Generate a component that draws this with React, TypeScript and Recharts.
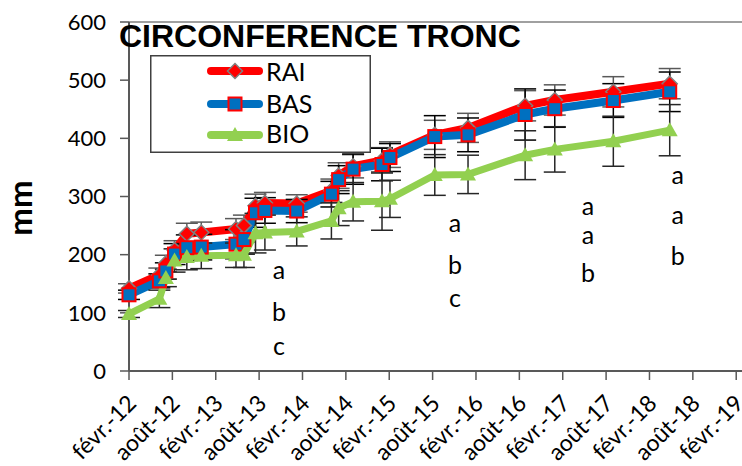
import React from 'react';
import {
  LineChart,
  Line,
  XAxis,
  YAxis,
  ErrorBar,
  ReferenceLine,
  ReferenceDot,
  Legend,
} from 'recharts';

// measurement dates, in months since févr.-12
const months = [0, 4.2, 5.1, 6.3, 8, 10, 14.8, 15.9, 17.5, 18.8, 23.2, 28, 29, 31, 35, 36.1, 42.3, 46.9, 54.8, 58.9, 67, 74.8];

const rai = [142, 165, 185, 208, 236, 238, 244, 250, 284, 289, 288, 310, 336, 352, 362, 372, 406, 418, 456, 466, 480, 494];
const bas = [131, 155, 172, 201, 212, 213, 218, 226, 272, 276, 275, 304, 329, 347, 355, 367, 403, 406, 441, 451, 465, 480];
const bio = [98, 124, 160, 190, 196, 198, 199, 200, 237, 238, 240, 258, 280, 291, 292, 296, 337, 338, 371, 381, 395, 414];

const raiErr = [8, 12, 14, 16, 18, 18, 18, 18, 20, 18, 15, 20, 22, 20, 22, 22, 25, 25, 26, 26, 26, 26];
const basErr = [8, 12, 14, 18, 22, 22, 25, 25, 25, 22, 20, 22, 24, 26, 28, 24, 36, 29, 44, 32, 29, 34];
const bioErr = [6, 15, 15, 20, 22, 22, 21, 22, 34, 30, 25, 31, 30, 33, 50, 32, 35, 33, 42, 39, 43, 44];

const tickMonths = [0, 6, 12, 18, 24, 30, 36, 42, 48, 54, 60, 66, 72, 78, 84];
const tickLabels = [
  'févr.-12', 'août-12', 'févr.-13', 'août-13', 'févr.-14', 'août-14', 'févr.-15', 'août-15',
  'févr.-16', 'août-16', 'févr.-17', 'août-17', 'févr.-18', 'août-18', 'févr.-19',
];
const yTicks = [0, 100, 200, 300, 400, 500, 600];

// significance letters
const letterMonths = [20.75, 20.75, 20.75, 45.1, 45.1, 45.1, 63.5, 63.5, 63.5, 75.9, 75.9, 75.9];
const letterValues = [173, 101, 42, 254, 182, 125, 283, 233, 169, 336, 268, 197];
const letterTexts = ['a', 'b', 'c', 'a', 'b', 'c', 'a', 'a', 'b', 'a', 'a', 'b'];

const RED = '#FF0000';
const BLUE = '#0070C0';
const GREEN = '#92D050';
const FONT = 'Lato, "Open Sans", sans-serif';

const data = months.map((m, i) => ({
  m,
  rai: rai[i],
  raiErr: raiErr[i],
  bas: bas[i],
  basErr: basErr[i],
  bio: bio[i],
  bioErr: bioErr[i],
}));

function diamondShape(cx: number, cy: number, key: string) {
  const s = 7.5;
  return (
    <path
      key={key}
      d={`M${cx},${cy - s}L${cx + s},${cy}L${cx},${cy + s}L${cx - s},${cy}Z`}
      fill={RED}
      stroke="#808080"
      strokeWidth={1.5}
    />
  );
}

function squareShape(cx: number, cy: number, key: string) {
  const s = 6.5;
  return (
    <rect key={key} x={cx - s} y={cy - s} width={s * 2} height={s * 2} fill={BLUE} stroke={RED} strokeWidth={2} />
  );
}

function triangleShape(cx: number, cy: number, key: string) {
  return (
    <path key={key} d={`M${cx},${cy - 8}L${cx + 8},${cy + 6}L${cx - 8},${cy + 6}Z`} fill={GREEN} />
  );
}

const RaiDot = (p: any) => (p.cx == null ? null : diamondShape(p.cx, p.cy, `rai-${p.index}`));
const BasDot = (p: any) => (p.cx == null ? null : squareShape(p.cx, p.cy, `bas-${p.index}`));
const BioDot = (p: any) => (p.cx == null ? null : triangleShape(p.cx, p.cy, `bio-${p.index}`));

function XTick({ x, y, payload }: any) {
  const label = tickLabels[tickMonths.indexOf(payload.value)];
  const px = x + 3;
  const py = y + 17;
  return (
    <text
      transform={`translate(${px},${py}) rotate(-45)`}
      textAnchor="end"
      dy="0.35em"
      fontSize={23}
      fontFamily={FONT}
      fill="#000"
    >
      {label}
    </text>
  );
}

function LegendBox() {
  const rows = [
    { name: 'RAI', color: RED, shape: diamondShape },
    { name: 'BAS', color: BLUE, shape: squareShape },
    { name: 'BIO', color: GREEN, shape: triangleShape },
  ];
  const lineY = [16, 49, 80];
  const textY = [26, 58, 88];
  return (
    <svg width={221} height={98} style={{ display: 'block' }}>
      <rect x={0.75} y={0.75} width={219.5} height={96.5} fill="#fff" stroke="#404040" strokeWidth={1.5} />
      {rows.map((r, i) => (
        <g key={r.name}>
          <line x1={61} x2={109} y1={lineY[i]} y2={lineY[i]} stroke={r.color} strokeWidth={8} strokeLinecap="round" />
          {r.shape(85, lineY[i], `lg-${i}`)}
          <text x={116} y={textY[i]} fontSize={25} fontFamily={FONT} fill="#000">
            {r.name}
          </text>
        </g>
      ))}
    </svg>
  );
}

export default function App() {
  return (
    <div style={{ position: 'absolute', left: 0, top: 0, width: 742, height: 466, background: '#fff' }}>
      <LineChart width={742} height={466} data={data} margin={{ top: 22, right: 0, bottom: 0, left: 0 }}>
        <XAxis
          dataKey="m"
          type="number"
          domain={[0, 84.8]}
          ticks={tickMonths}
          interval={0}
          height={95}
          tick={<XTick />}
          tickSize={9}
          axisLine={{ stroke: '#595959', strokeWidth: 2 }}
          tickLine={{ stroke: '#595959', strokeWidth: 1.5 }}
        />
        <YAxis
          type="number"
          domain={[0, 600]}
          ticks={yTicks}
          interval={0}
          width={129}
          tickSize={9}
          tickMargin={14}
          tick={{ fontSize: 22, fontFamily: FONT, fill: '#000' }}
          axisLine={{ stroke: '#595959', strokeWidth: 2 }}
          tickLine={{ stroke: '#595959', strokeWidth: 1.5 }}
        />
        <ReferenceLine y={600} stroke="#808080" strokeWidth={1.5} />
        <Legend
          layout="vertical"
          align="center"
          verticalAlign="middle"
          content={() => <LegendBox />}
          wrapperStyle={{ left: 150, top: 55, width: 221, height: 98 }}
        />
        <Line
          dataKey="rai"
          name="RAI"
          stroke={RED}
          strokeWidth={8}
          dot={RaiDot}
          activeDot={false}
          isAnimationActive={false}
        >
          <ErrorBar dataKey="raiErr" direction="y" width={11} stroke="#595959" strokeWidth={1.5} />
        </Line>
        <Line
          dataKey="bas"
          name="BAS"
          stroke={BLUE}
          strokeWidth={8}
          dot={BasDot}
          activeDot={false}
          isAnimationActive={false}
        >
          <ErrorBar dataKey="basErr" direction="y" width={11} stroke="#000" strokeWidth={1.5} />
        </Line>
        <Line
          dataKey="bio"
          name="BIO"
          stroke={GREEN}
          strokeWidth={7}
          dot={BioDot}
          activeDot={false}
          isAnimationActive={false}
        >
          <ErrorBar dataKey="bioErr" direction="y" width={11} stroke="#262626" strokeWidth={1.5} />
        </Line>
        {letterTexts.map((t, i) => (
          <ReferenceDot
            key={`let-${i}`}
            x={letterMonths[i]}
            y={letterValues[i]}
            r={0}
            fill="none"
            stroke="none"
            ifOverflow="visible"
            label={{ value: t, position: 'center', fontSize: 25, fontFamily: FONT, fill: '#000' }}
          />
        ))}
      </LineChart>
      <svg
        width={742}
        height={466}
        style={{ position: 'absolute', left: 0, top: 0, pointerEvents: 'none' }}
      >
        <text x={119} y={47} fontSize={32} fontWeight="bold" fontFamily='"Liberation Sans", Arial, sans-serif' fill="#000">
          CIRCONFERENCE TRONC
        </text>
        <text
          transform="translate(32,208) rotate(-90)"
          textAnchor="middle"
          fontSize={33}
          fontWeight="bold"
          fontFamily={FONT}
          fill="#000"
        >
          mm
        </text>
      </svg>
    </div>
  );
}
